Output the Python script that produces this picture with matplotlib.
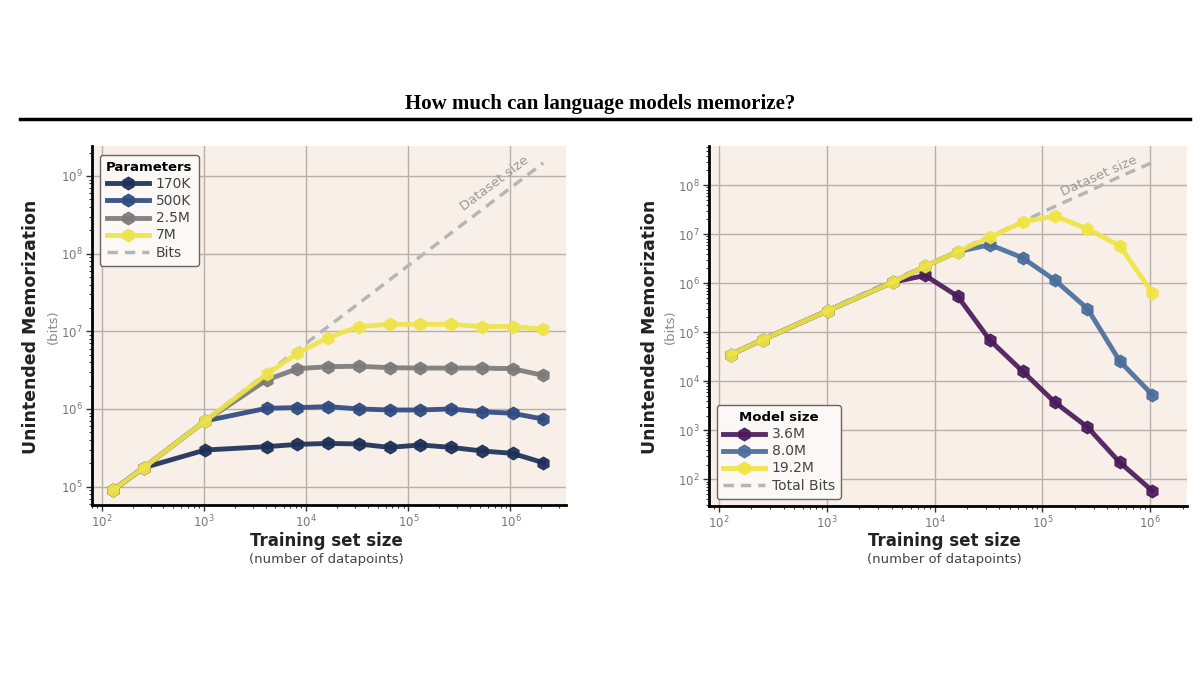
import numpy as np
import matplotlib.pyplot as plt
from matplotlib.lines import Line2D
from matplotlib.ticker import LogLocator, NullFormatter

# ---- left panel: memorization vs training set size, by parameter count
n_left = [128, 256, 1024, 4096, 8192, 16384, 32768, 65536, 131072, 262144, 524288, 1048576, 2097152]
mem_170k = [9.0e4, 1.75e5, 2.96e5, 3.27e5, 3.5e5, 3.6e5, 3.54e5, 3.2e5, 3.44e5, 3.2e5, 2.88e5, 2.68e5, 2.03e5]
mem_500k = [9.0e4, 1.75e5, 7.0e5, 1.02e6, 1.04e6, 1.07e6, 1.0e6, 0.97e6, 0.97e6, 1.0e6, 0.92e6, 0.88e6, 7.4e5]
mem_2_5m = [9.0e4, 1.75e5, 7.0e5, 2.36e6, 3.3e6, 3.5e6, 3.55e6, 3.4e6, 3.36e6, 3.36e6, 3.36e6, 3.3e6, 2.7e6]
mem_7m = [9.0e4, 1.75e5, 7.0e5, 2.8e6, 5.2e6, 8.3e6, 1.15e7, 1.23e7, 1.23e7, 1.23e7, 1.15e7, 1.15e7, 1.06e7]
bits_left = [9.0e4, 1.79e5, 7.2e5, 2.87e6, 5.73e6, 1.15e7, 2.29e7, 4.59e7, 9.18e7, 1.84e8, 3.67e8, 7.34e8, 1.47e9]

# ---- right panel: memorization vs training set size, by model size
n_right = [128, 256, 1024, 4096, 8192, 16384, 32768, 65536, 131072, 262144, 524288, 1048576]
mem_3_6m = [3.5e4, 7.1e4, 2.76e5, 1.05e6, 1.44e6, 5.4e5, 6.8e4, 1.6e4, 3.7e3, 1.16e3, 2.2e2, 58]
mem_8_0m = [3.5e4, 7.1e4, 2.76e5, 1.05e6, 2.22e6, 4.4e6, 6.1e6, 3.3e6, 1.15e6, 3.03e5, 2.55e4, 5.3e3]
mem_19_2m = [3.5e4, 7.1e4, 2.76e5, 1.05e6, 2.22e6, 4.4e6, 8.7e6, 1.77e7, 2.36e7, 1.28e7, 5.8e6, 6.3e5]
bits_right = [3.6e4, 7.2e4, 2.9e5, 1.15e6, 2.3e6, 4.6e6, 9.2e6, 1.8e7, 3.7e7, 7.3e7, 1.5e8, 2.9e8]

BG = '#f8f0e8'
GRID = '#b9b1a9'
TICK = '#777777'

fig = plt.figure(figsize=(12, 6.75), dpi=100)
fig.patch.set_facecolor('white')

fig.text(0.5, 1 - 104 / 675, "How much can language models memorize?", ha='center', va='center',
         fontfamily='Liberation Serif', fontweight='bold', fontsize=15)
fig.add_artist(Line2D([20 / 1200, 1190 / 1200], [1 - 119 / 675] * 2, color='black', lw=2.5))

ax1 = fig.add_axes([92 / 1200, 1 - 505 / 675, 474 / 1200, 359 / 675])
ax2 = fig.add_axes([709 / 1200, 1 - 506 / 675, 478 / 1200, 360 / 675])


def style(ax):
    ax.set_xscale('log')
    ax.set_yscale('log')
    ax.set_facecolor(BG)
    ax.grid(True, which='major', color=GRID, lw=1.0)
    ax.set_axisbelow(True)
    for s in ['top', 'right']:
        ax.spines[s].set_visible(False)
    for s in ['left', 'bottom']:
        ax.spines[s].set_linewidth(2)
        ax.spines[s].set_color('black')
    for axis in [ax.xaxis, ax.yaxis]:
        axis.set_major_locator(LogLocator(base=10, numticks=20))
        axis.set_minor_locator(LogLocator(base=10, subs=np.arange(2, 10), numticks=100))
        axis.set_minor_formatter(NullFormatter())
    ax.tick_params(which='major', length=4, width=1, colors='#333333', labelcolor=TICK, labelsize=8.5, pad=2.5)
    ax.tick_params(which='minor', length=2.5, width=0.8, colors='#333333')


lkw = dict(marker='h', lw=3.5, ms=9, alpha=0.92)
legkw = dict(borderaxespad=0, fontsize=10, title_fontproperties={'weight': 'bold', 'size': 9.5},
             handlelength=3.0, labelspacing=0.22, handletextpad=0.5, borderpad=0.45,
             frameon=True, fancybox=True, edgecolor='#666666', facecolor='#fbf8f5', framealpha=1)

# left panel
style(ax1)
ax1.plot(n_left, bits_left, ls=(0, (3, 2)), color='#b5b5b5', lw=2.5, zorder=1, label='Bits')
ax1.plot(n_left, mem_170k, color='#1c2f56', label='170K', zorder=2, **lkw)
ax1.plot(n_left, mem_500k, color='#2f4a80', label='500K', zorder=3, **lkw)
ax1.plot(n_left, mem_2_5m, color='#7a7a7a', label='2.5M', zorder=4, **lkw)
ax1.plot(n_left, mem_7m, color='#efe34a', label='7M', zorder=5, **lkw)
ax1.set_xlim(80, 3.5e6)
ax1.set_ylim(5.8e4, 2.43e9)
ax1.text(7.0e5, 8.1e8, "Dataset size", rotation=37, color='#999999', fontsize=9.5,
         ha='center', va='center')
h, l = ax1.get_legend_handles_labels()
order = [1, 2, 3, 4, 0]
leg1 = ax1.legend([h[i] for i in order], [l[i] for i in order], title='Parameters',
                  loc='upper left', bbox_to_anchor=(0.016, 0.975), **legkw)
leg1.get_frame().set_linewidth(1)
for t in leg1.get_texts():
    t.set_color('#444444')

# right panel
style(ax2)
ax2.plot(n_right, bits_right, ls=(0, (3, 2)), color='#b5b5b5', lw=2.5, zorder=1, label='Total Bits')
ax2.plot(n_right, mem_3_6m, color='#4a1a5c', label='3.6M', zorder=2, **lkw)
ax2.plot(n_right, mem_8_0m, color='#4a6d9c', label='8.0M', zorder=3, **lkw)
ax2.plot(n_right, mem_19_2m, color='#f0e444', label='19.2M', zorder=4, **lkw)
ax2.set_xlim(80.7, 2.2e6)
ax2.set_ylim(28.5, 6.3e8)
ax2.text(3.37e5, 1.55e8, "Dataset size", rotation=24, color='#999999', fontsize=9.5,
         ha='center', va='center')
h, l = ax2.get_legend_handles_labels()
order = [1, 2, 3, 0]
leg2 = ax2.legend([h[i] for i in order], [l[i] for i in order], title='Model size',
                  loc='lower left', bbox_to_anchor=(0.016, 0.02), **legkw)
leg2.get_frame().set_linewidth(1)
for t in leg2.get_texts():
    t.set_color('#444444')

# axis labels
for xc, yl_x, bits_x in [(326, 31, 53), (944, 650, 670)]:
    fig.text(yl_x / 1200, 1 - 327 / 675, "Unintended Memorization", rotation=90,
             ha='center', va='center', fontsize=12.5, fontweight='bold', color='#222222')
    fig.text(bits_x / 1200, 1 - 327 / 675, "(bits)", rotation=90,
             ha='center', va='center', fontsize=9.5, color='#888888')
    fig.text(xc / 1200, 1 - 541 / 675, "Training set size", ha='center', va='center',
             fontsize=12, fontweight='bold', color='#222222')
    fig.text(xc / 1200, 1 - 559 / 675, "(number of datapoints)", ha='center', va='center',
             fontsize=9.5, color='#444444')

fig.savefig('out.png', dpi=100, facecolor='white')
